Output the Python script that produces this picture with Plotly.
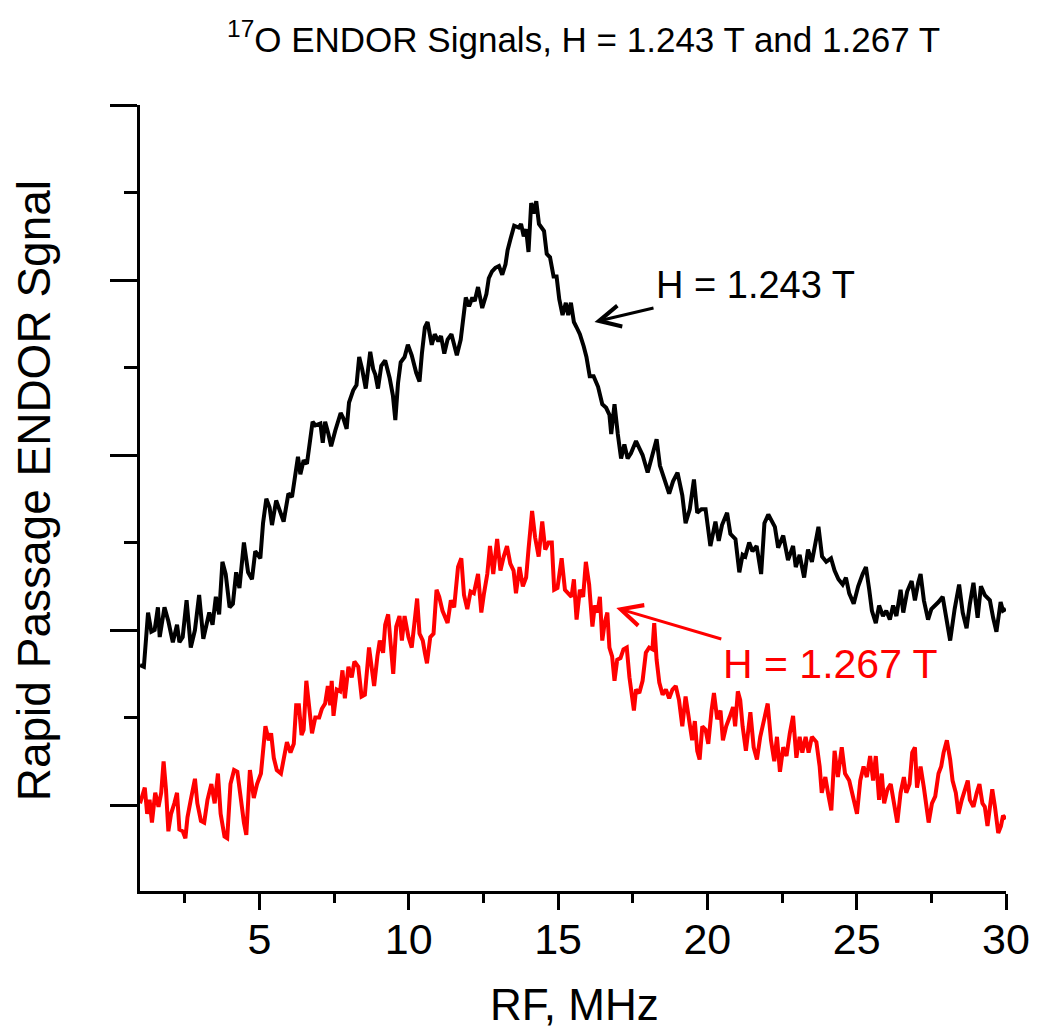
import plotly.graph_objects as go

# ---- data (RF in MHz, signal in arbitrary units) ----
rf_1243 = [1.00, 1.13, 1.27, 1.38, 1.49, 1.60, 1.66, 1.82, 1.95, 2.10, 2.24, 2.32, 2.43, 2.56, 2.70, 2.84, 2.98, 3.12,
           3.32, 3.43, 3.54, 3.65, 3.76, 3.87, 4.00, 4.11, 4.22, 4.33, 4.48, 4.62, 4.75, 4.86, 5.03, 5.12, 5.23, 5.34,
           5.42, 5.56, 5.81, 5.97, 6.09, 6.21, 6.29, 6.37, 6.48, 6.59, 6.67, 6.78, 6.87, 7.04, 7.12, 7.20, 7.31, 7.40,
           7.54, 7.64, 7.72, 7.81, 7.92, 8.00, 8.14, 8.25, 8.34, 8.44, 8.56, 8.71, 8.81, 8.88, 8.97, 9.08, 9.21, 9.36,
           9.47, 9.55, 9.64, 9.73, 9.86, 9.97, 10.10, 10.25, 10.36, 10.44, 10.54, 10.63, 10.77, 10.87, 10.99, 11.08,
           11.19, 11.30, 11.43, 11.61, 11.74, 11.91, 12.02, 12.13, 12.21, 12.32, 12.46, 12.60, 12.68, 12.79, 12.90,
           13.02, 13.13, 13.24, 13.31, 13.40, 13.53, 13.68, 13.76, 13.85, 13.93, 14.01, 14.10, 14.18, 14.27, 14.36,
           14.46, 14.53, 14.62, 14.73, 14.85, 14.95, 15.04, 15.15, 15.26, 15.34, 15.43, 15.53, 15.62, 15.73, 15.86,
           15.95, 16.06, 16.19, 16.34, 16.48, 16.61, 16.72, 16.78, 16.89, 17.00, 17.11, 17.22, 17.33, 17.44, 17.61,
           17.72, 17.83, 18.00, 18.16, 18.30, 18.41, 18.55, 18.72, 18.85, 19.00, 19.16, 19.27, 19.41, 19.55, 19.66,
           19.80, 19.94, 20.10, 20.27, 20.38, 20.49, 20.66, 20.77, 20.94, 21.07, 21.18, 21.27, 21.40, 21.51, 21.65,
           21.80, 21.91, 22.04, 22.15, 22.26, 22.37, 22.54, 22.70, 22.87, 22.96, 23.09, 23.24, 23.37, 23.50, 23.65,
           23.72, 23.84, 23.98, 24.14, 24.26, 24.39, 24.53, 24.64, 24.75, 24.90, 25.05, 25.20, 25.31, 25.42, 25.51,
           25.64, 25.75, 25.88, 25.99, 26.11, 26.22, 26.33, 26.47, 26.56, 26.69, 26.84, 26.95, 27.06, 27.14, 27.25,
           27.39, 27.50, 27.63, 27.74, 27.88, 28.02, 28.13, 28.28, 28.43, 28.55, 28.68, 28.79, 28.91, 29.05, 29.16,
           29.29, 29.46, 29.57, 29.68, 29.82, 29.90, 30.00]
sig_1243 = [0.80, 0.79, 1.10, 0.99, 1.00, 1.13, 0.96, 1.13, 1.05, 0.93, 1.03, 0.93, 0.96, 1.17, 0.90, 1.00, 1.20, 0.95,
            1.10, 1.03, 1.19, 1.09, 1.39, 1.32, 1.13, 1.15, 1.33, 1.24, 1.50, 1.33, 1.29, 1.45, 1.41, 1.61, 1.75, 1.70,
            1.60, 1.74, 1.62, 1.78, 1.76, 1.91, 1.99, 1.89, 1.97, 1.95, 2.07, 2.19, 2.17, 2.18, 2.07, 2.19, 2.12, 2.05,
            2.14, 2.20, 2.24, 2.21, 2.15, 2.30, 2.37, 2.40, 2.56, 2.49, 2.38, 2.59, 2.49, 2.46, 2.38, 2.51, 2.54, 2.44,
            2.34, 2.20, 2.41, 2.53, 2.56, 2.63, 2.57, 2.47, 2.42, 2.58, 2.73, 2.76, 2.63, 2.69, 2.65, 2.68,
            2.58, 2.66, 2.69, 2.57, 2.66, 2.90, 2.85, 2.90, 2.88, 2.96, 2.84, 2.92, 3.01, 3.05, 3.07,
            3.08, 3.03, 3.09, 3.17, 3.23, 3.31, 3.30, 3.32, 3.25, 3.29, 3.16, 3.44, 3.38, 3.45, 3.32,
            3.29, 3.28, 3.15, 3.13, 3.02, 3.02, 2.89, 2.80, 2.87, 2.80, 2.87, 2.76, 2.73, 2.69, 2.62,
            2.56, 2.45, 2.45, 2.39, 2.29, 2.27, 2.23, 2.12, 2.29, 2.12, 1.98, 2.06, 1.98, 2.01, 2.08,
            2.04, 2.00, 1.90, 2.01, 2.09, 1.94, 1.86, 1.78, 1.85, 1.90, 1.77, 1.61, 1.69, 1.86, 1.67,
            1.69, 1.69, 1.48, 1.62, 1.51, 1.60, 1.67, 1.55, 1.52, 1.33, 1.43, 1.42, 1.50, 1.45, 1.48,
            1.32, 1.61, 1.66, 1.63, 1.59, 1.47, 1.54, 1.40, 1.48, 1.36, 1.43, 1.30, 1.46, 1.39, 1.51,
            1.59, 1.42, 1.39, 1.41, 1.34, 1.29, 1.26, 1.30, 1.21, 1.15, 1.25, 1.32, 1.36, 1.23, 1.11,
            1.04, 1.14, 1.08, 1.11, 1.06, 1.14, 1.08, 1.23, 1.10, 1.22, 1.28, 1.17, 1.27, 1.32, 1.17,
            1.06, 1.12, 1.14, 1.16, 1.19, 1.06, 0.94, 1.12, 1.26, 1.10, 1.01, 1.15, 1.27, 1.07, 1.25,
            1.20, 1.17, 1.07, 0.99, 1.16, 1.11, 1.12]

rf_1267 = [1.00, 1.16, 1.24, 1.32, 1.40, 1.51, 1.62, 1.71, 1.79, 1.87, 1.95, 2.04, 2.15, 2.24, 2.32, 2.43, 2.52, 2.59,
           2.70, 2.84, 2.92, 3.04, 3.15, 3.26, 3.39, 3.50, 3.61, 3.70, 3.83, 3.92, 4.03, 4.15, 4.26, 4.37, 4.48, 4.56,
           4.68, 4.81, 4.92, 5.05, 5.20, 5.31, 5.39, 5.48, 5.58, 5.72, 5.81, 5.92, 6.04, 6.15, 6.23, 6.32, 6.41, 6.48,
           6.57, 6.67, 6.76, 6.87, 7.00, 7.09, 7.20, 7.29, 7.37, 7.42, 7.48, 7.59, 7.70, 7.78, 7.86, 7.98, 8.09, 8.18,
           8.31, 8.42, 8.53, 8.67, 8.75, 8.84, 8.95, 9.03, 9.14, 9.21, 9.31, 9.39, 9.48, 9.58, 9.69, 9.77, 9.86, 9.99,
           10.10, 10.19, 10.28, 10.36, 10.47, 10.54, 10.61, 10.72, 10.83, 10.93, 11.02, 11.13, 11.30, 11.41, 11.52,
           11.65, 11.76, 11.85, 11.96, 12.07, 12.18, 12.32, 12.43, 12.52, 12.63, 12.72, 12.83, 12.96, 13.07, 13.18,
           13.29, 13.40, 13.51, 13.59, 13.71, 13.82, 13.93, 14.01, 14.13, 14.23, 14.35, 14.47, 14.57, 14.68, 14.79,
           14.87, 14.98, 15.12, 15.23, 15.34, 15.45, 15.53, 15.62, 15.73, 15.84, 15.93, 16.04, 16.15, 16.23, 16.32,
           16.40, 16.48, 16.56, 16.65, 16.72, 16.81, 16.89, 16.98, 17.09, 17.19, 17.30, 17.39, 17.54, 17.61, 17.72,
           17.83, 17.94, 18.05, 18.16, 18.22, 18.30, 18.39, 18.50, 18.61, 18.72, 18.83, 18.94, 19.05, 19.16, 19.27,
           19.38, 19.49, 19.58, 19.66, 19.74, 19.83, 19.94, 20.03, 20.14, 20.22, 20.33, 20.44, 20.52, 20.63, 20.74,
           20.86, 20.93, 21.02, 21.10, 21.18, 21.29, 21.44, 21.55, 21.66, 21.77, 21.88, 22.02, 22.13, 22.24, 22.33,
           22.43, 22.54, 22.65, 22.76, 22.87, 22.98, 23.09, 23.18, 23.29, 23.39, 23.50, 23.65, 23.76, 23.83, 23.95,
           24.06, 24.15, 24.26, 24.37, 24.50, 24.61, 24.75, 24.86, 25.01, 25.12, 25.23, 25.34, 25.45, 25.55, 25.64,
           25.75, 25.84, 25.92, 26.03, 26.14, 26.25, 26.36, 26.47, 26.58, 26.66, 26.77, 26.86, 26.95, 27.02, 27.14,
           27.25, 27.32, 27.41, 27.52, 27.63, 27.74, 27.83, 27.91, 28.02, 28.13, 28.21, 28.32, 28.41, 28.52, 28.63,
           28.72, 28.79, 28.91, 29.02, 29.11, 29.21, 29.29, 29.38, 29.46, 29.54, 29.63, 29.74, 29.83, 29.90, 30.00]
sig_1267 = [0.01, 0.10, -0.05, 0.03, -0.10, 0.07, -0.01, 0.07, 0.25, 0.09, -0.15, -0.05, 0.01, 0.07, -0.14, -0.15,
            -0.19, -0.07, 0.03, 0.15, 0.01, -0.09, -0.10, 0.03, 0.12, 0.01, 0.18, -0.05, -0.18, -0.19, 0.12, 0.20,
            0.19, 0.03, -0.10, -0.17, 0.20, 0.04, 0.12, 0.18, 0.45, 0.37, 0.41, 0.27, 0.20, 0.18, 0.26, 0.36, 0.30,
            0.35, 0.57, 0.57, 0.40, 0.43, 0.71, 0.57, 0.41, 0.50, 0.50, 0.55, 0.58, 0.68, 0.57, 0.71, 0.51, 0.66,
            0.65, 0.77, 0.61, 0.79, 0.73, 0.82, 0.79, 0.62, 0.63, 0.90, 0.79, 0.68, 0.85, 0.94, 0.87, 1.03, 1.09,
            0.92, 0.75, 1.02, 1.08, 0.94, 1.08, 0.96, 0.90, 1.04, 1.18, 0.98, 0.94, 0.87, 0.81, 0.96, 0.98, 1.23,
            1.19, 1.11, 1.04, 1.17, 1.13, 1.36, 1.41, 1.20, 1.12, 1.22, 1.21, 1.32, 1.10, 1.21, 1.32, 1.48, 1.32,
            1.52, 1.34, 1.42, 1.48, 1.38, 1.34, 1.21, 1.36, 1.25, 1.30, 1.46, 1.68, 1.53, 1.42, 1.62, 1.46, 1.50,
            1.50, 1.23, 1.24, 1.41, 1.23, 1.21, 1.19, 1.29, 1.06, 1.23, 1.19, 1.39, 1.26, 1.02, 1.14, 1.10, 1.19,
            0.94, 1.04, 1.10, 0.90, 0.85, 0.71, 0.83, 0.84, 0.89, 0.90, 0.73, 0.54, 0.66, 0.64, 0.71, 0.87, 0.90,
            0.89, 1.04, 0.83, 0.70, 0.63, 0.66, 0.61, 0.66, 0.68, 0.60, 0.45, 0.62, 0.49, 0.37, 0.48, 0.31, 0.26,
            0.45, 0.43, 0.35, 0.54, 0.64, 0.49, 0.54, 0.37, 0.45, 0.50, 0.56, 0.45, 0.65, 0.60, 0.45, 0.31, 0.53,
            0.33, 0.26, 0.39, 0.47, 0.58, 0.37, 0.25, 0.39, 0.19, 0.33, 0.28, 0.41, 0.51, 0.27, 0.39, 0.30, 0.39,
            0.30, 0.39, 0.36, 0.22, 0.07, 0.16, 0.05, -0.03, 0.31, 0.16, 0.33, 0.18, 0.14, 0.05, -0.05, 0.14, 0.22,
            0.16, 0.28, 0.14, 0.28, 0.03, 0.18, 0.01, 0.09, 0.12, -0.01, -0.10, 0.07, 0.16, 0.07, 0.12, 0.30, 0.33,
            0.10, 0.22, 0.10, -0.01, -0.10, 0.01, 0.05, 0.18, 0.22, 0.30, 0.37, 0.26, 0.14, 0.07, -0.05, 0.03, 0.10,
            0.14, 0.03, -0.01, 0.07, 0.12, 0.01, -0.01, -0.12, 0.01, 0.09, -0.01, -0.16, -0.12, -0.06, -0.08]

x_ticks = [5, 10, 15, 20, 25, 30]
x_range = [1, 30]
y_range = [-0.491, 4.0]

FONT = "Liberation Sans, Arial, Helvetica, sans-serif"

fig = go.Figure()
fig.add_trace(go.Scatter(x=rf_1243, y=sig_1243, mode="lines", name="H = 1.243 T",
                         line=dict(color="#000000", width=4)))
fig.add_trace(go.Scatter(x=rf_1267, y=sig_1267, mode="lines", name="H = 1.267 T",
                         line=dict(color="#ff0000", width=4)))

fig.update_layout(
    width=1042, height=1036,
    margin=dict(l=140, r=29, t=105, b=145),
    paper_bgcolor="white", plot_bgcolor="white",
    showlegend=False,
    font=dict(family=FONT, color="black"),
)

fig.update_xaxes(
    range=x_range, tickvals=x_ticks, ticktext=[str(v) for v in x_ticks],
    showgrid=False, zeroline=False,
    showline=True, linecolor="black", linewidth=3,
    ticks="outside", ticklen=16, tickwidth=2.5, tickcolor="black",
    tickfont=dict(size=43, family=FONT, color="black"),
    ticklabelstandoff=-8,
    minor=dict(dtick=2.5, tick0=0, ticks="outside", ticklen=9, tickwidth=2.5, tickcolor="black", showgrid=False),
)
fig.update_yaxes(
    range=y_range, dtick=1, tick0=0,
    showgrid=False, zeroline=False,
    showline=True, linecolor="black", linewidth=3,
    ticks="outside", ticklen=27, tickwidth=2.5, tickcolor="black",
    showticklabels=False,
    minor=dict(dtick=0.5, tick0=0, ticks="outside", ticklen=13, tickwidth=2.5, tickcolor="black", showgrid=False),
)

annotations = [
    dict(text="<sup>17</sup>O ENDOR Signals, H = 1.243 T and 1.267 T", xref="paper", yref="paper",
         x=(587 - 140) / 873, y=1.086, xanchor="center", yanchor="middle", showarrow=False,
         font=dict(size=35, family=FONT, color="black")),
    dict(text="RF, MHz", xref="paper", yref="paper", x=0.5017, y=-0.145,
         xanchor="center", yanchor="middle", showarrow=False,
         font=dict(size=44, family=FONT, color="black")),
    dict(text="Rapid Passage ENDOR Sgnal", xref="paper", yref="paper", x=-0.122, y=0.509,
         xanchor="center", yanchor="middle", textangle=-90, showarrow=False,
         font=dict(size=46, family=FONT, color="black")),
    # labels with arrows pointing at the curves
    dict(x=16.22, y=2.76, xref="x", yref="y", text="H = 1.243 T", showarrow=True, ax=59, ay=-14,
         xanchor="left", yanchor="bottom",
         arrowhead=5, arrowsize=1.4, arrowwidth=3, arrowcolor="black",
         font=dict(size=38, family=FONT, color="black")),
    dict(x=16.95, y=1.126, xref="x", yref="y", text="H = 1.267 T", showarrow=True, ax=105, ay=31,
         xanchor="left", yanchor="top",
         arrowhead=5, arrowsize=1.4, arrowwidth=3, arrowcolor="#ff0000",
         font=dict(size=41, family=FONT, color="#ff0000")),
]
fig.update_layout(annotations=annotations)

# remove the default 8px page margin so the figure fills the 1042x1036 window exactly
fig.write_html("out.html", config={"displayModeBar": False},
               post_script="document.body.style.margin='0px';")
